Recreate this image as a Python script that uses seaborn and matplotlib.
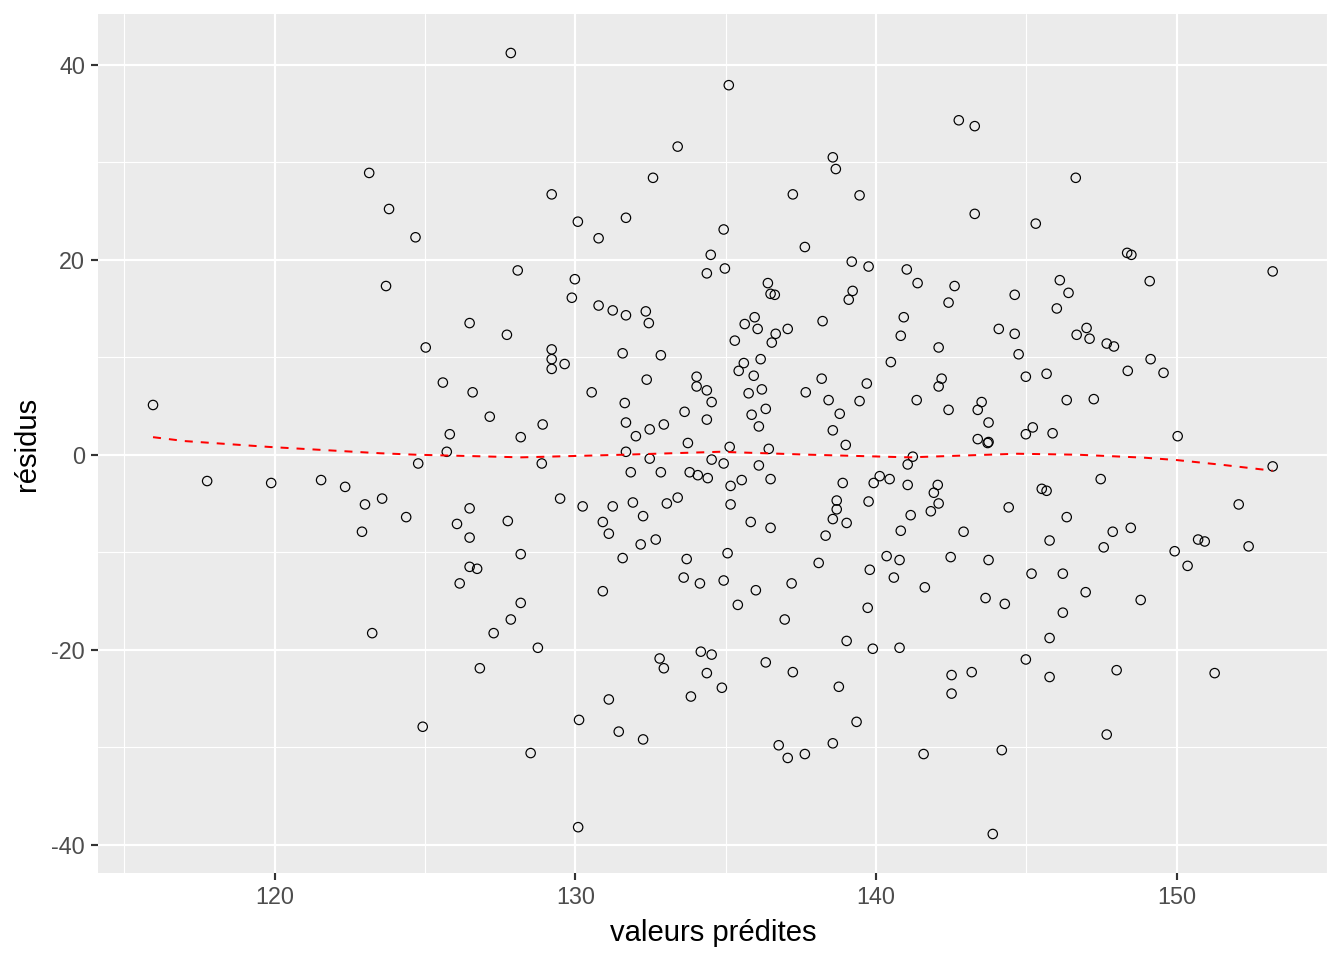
import matplotlib
matplotlib.use("Agg")
import matplotlib.pyplot as plt
import seaborn as sns

# fitted values (x) and residuals (y)
predites = [
    123.14, 123.80, 124.68, 123.70, 115.95, 117.75, 119.88, 121.54, 122.34, 123.00,
    123.57, 124.37, 122.90, 124.77, 123.24,
    127.85, 133.40, 132.58, 129.21, 130.08, 131.68, 130.77, 134.50, 134.37, 128.08,
    129.98, 129.88, 130.77, 131.24, 131.68, 132.34, 132.44, 126.48, 127.72, 125.02,
    129.21, 129.21, 129.21, 129.64, 131.57, 132.84, 125.59, 126.58, 130.54, 132.37,
    134.03, 134.03, 134.37, 134.53, 131.64, 133.63, 134.37, 127.15, 128.91, 131.68,
    132.94, 132.47, 132.01, 125.82, 128.18, 133.74, 125.72, 131.68,
    128.88, 132.47, 134.53, 131.84, 132.84, 133.80, 134.07, 134.40, 129.49, 130.24,
    131.24, 131.91, 133.04, 133.40, 126.48, 126.06, 127.75, 130.91, 131.11, 132.25,
    132.17, 132.67, 126.48, 128.18, 131.57, 133.70, 126.48, 126.73, 126.15, 133.60,
    134.14, 130.91, 128.18, 127.85, 127.28, 128.75, 126.82, 132.80, 132.94, 134.17,
    134.53, 134.37, 134.87, 133.84, 131.11, 124.92, 130.12, 131.44, 132.25, 128.51,
    130.09,
    135.10, 142.75, 143.28, 138.56, 138.66, 137.23, 139.45, 143.28, 134.93, 137.63,
    134.97, 139.19, 139.75, 141.02, 141.38, 142.61, 142.41, 144.61, 136.40, 136.49,
    136.63, 139.22, 139.09, 135.96, 135.63, 136.06, 137.06, 136.66, 136.53, 135.30,
    138.22, 140.92, 140.82, 142.08, 144.08, 144.61, 144.74, 136.16, 135.60, 135.43,
    135.93, 140.49, 142.18, 142.08, 138.19, 139.69, 136.20, 135.76, 137.66, 138.42,
    139.45, 141.35, 142.41, 143.38, 143.51, 143.74, 136.33, 135.86, 138.79, 136.10,
    138.56, 143.38, 143.71, 143.74, 135.13, 136.43, 138.99, 141.22,
    134.93, 136.10, 135.16, 135.53, 136.49, 135.16, 135.83, 136.49, 138.89, 138.69,
    138.69, 138.56, 139.02, 138.32, 139.75, 139.92, 140.12, 140.45, 141.05, 141.05,
    141.15, 140.82, 142.05, 141.92, 142.08, 141.82, 142.91, 144.41, 135.06, 134.93,
    136.00, 135.40, 137.19, 136.96, 138.09, 139.79, 140.35, 140.78, 140.59, 139.72,
    141.62, 142.48, 143.74, 143.64, 144.28, 139.02, 139.89, 140.78, 136.33, 137.23,
    138.76, 142.51, 143.18, 142.51, 139.35, 136.76, 137.06, 137.63, 138.56, 141.58,
    144.18, 143.88,
    146.64, 145.31, 148.35, 148.49, 153.19, 146.11, 149.10, 146.40, 146.01, 147.00,
    146.67, 147.10, 147.67, 147.91, 149.13, 144.98, 145.67, 148.37, 149.56, 146.34,
    147.24, 145.21, 144.98, 145.87, 150.03,
    153.19, 147.47, 145.51, 145.67, 146.34, 152.06, 147.87, 148.47, 145.77, 147.57,
    150.71, 150.93, 152.39, 149.93, 150.36, 145.17, 146.21, 146.97, 148.80, 146.21,
    145.77, 144.98, 145.77, 148.00, 151.26, 147.67,
]
residus = [
    28.9, 25.2, 22.3, 17.3, 5.1, -2.7, -2.9, -2.6, -3.3, -5.1,
    -4.5, -6.4, -7.9, -0.9, -18.3,
    41.2, 31.6, 28.4, 26.7, 23.9, 24.3, 22.2, 20.5, 18.6, 18.9,
    18.0, 16.1, 15.3, 14.8, 14.3, 14.7, 13.5, 13.5, 12.3, 11.0,
    10.8, 9.8, 8.8, 9.3, 10.4, 10.2, 7.4, 6.4, 6.4, 7.7,
    8.0, 7.0, 6.6, 5.4, 5.3, 4.4, 3.6, 3.9, 3.1, 3.3,
    3.1, 2.6, 1.9, 2.1, 1.8, 1.2, 0.3, 0.3,
    -0.9, -0.4, -0.5, -1.8, -1.8, -1.8, -2.1, -2.4, -4.5, -5.3,
    -5.3, -4.9, -5.0, -4.4, -5.5, -7.1, -6.8, -6.9, -8.1, -6.3,
    -9.2, -8.7, -8.5, -10.2, -10.6, -10.7, -11.5, -11.7, -13.2, -12.6,
    -13.2, -14.0, -15.2, -16.9, -18.3, -19.8, -21.9, -20.9, -21.9, -20.2,
    -20.5, -22.4, -23.9, -24.8, -25.1, -27.9, -27.2, -28.4, -29.2, -30.6,
    -38.2,
    37.9, 34.3, 33.7, 30.5, 29.3, 26.7, 26.6, 24.7, 23.1, 21.3,
    19.1, 19.8, 19.3, 19.0, 17.6, 17.3, 15.6, 16.4, 17.6, 16.5,
    16.4, 16.8, 15.9, 14.1, 13.4, 12.9, 12.9, 12.4, 11.5, 11.7,
    13.7, 14.1, 12.2, 11.0, 12.9, 12.4, 10.3, 9.8, 9.4, 8.6,
    8.1, 9.5, 7.8, 7.0, 7.8, 7.3, 6.7, 6.3, 6.4, 5.6,
    5.5, 5.6, 4.6, 4.6, 5.4, 3.3, 4.7, 4.1, 4.2, 2.9,
    2.5, 1.6, 1.2, 1.3, 0.8, 0.6, 1.0, -0.2,
    -0.9, -1.1, -3.2, -2.6, -2.5, -5.1, -6.9, -7.5, -2.9, -4.7,
    -5.6, -6.6, -7.0, -8.3, -4.8, -2.9, -2.2, -2.5, -1.0, -3.1,
    -6.2, -7.8, -3.1, -3.9, -5.0, -5.8, -7.9, -5.4, -10.1, -12.9,
    -13.9, -15.4, -13.2, -16.9, -11.1, -11.8, -10.4, -10.8, -12.6, -15.7,
    -13.6, -10.5, -10.8, -14.7, -15.3, -19.1, -19.9, -19.8, -21.3, -22.3,
    -23.8, -22.6, -22.3, -24.5, -27.4, -29.8, -31.1, -30.7, -29.6, -30.7,
    -30.3, -38.9,
    28.4, 23.7, 20.7, 20.5, 18.8, 17.9, 17.8, 16.6, 15.0, 13.0,
    12.3, 11.9, 11.4, 11.1, 9.8, 8.0, 8.3, 8.6, 8.4, 5.6,
    5.7, 2.8, 2.1, 2.2, 1.9,
    -1.2, -2.5, -3.5, -3.7, -6.4, -5.1, -7.9, -7.5, -8.8, -9.5,
    -8.7, -8.9, -9.4, -9.9, -11.4, -12.2, -12.2, -14.1, -14.9, -16.2,
    -18.8, -21.0, -22.8, -22.1, -22.4, -28.7,
]

# smoothed trend (dashed red)
lisse_x = [115.95, 117.0, 119.8, 123.5, 124.7, 128.2, 131.6, 134.8,
           137.8, 141.1, 144.7, 146.7, 148.9, 150.0, 151.55, 153.19]
lisse_y = [1.8, 1.4, 0.8, 0.15, 0.0, -0.27, 0.0, 0.3,
           0.0, -0.27, 0.1, 0.0, -0.3, -0.55, -1.05, -1.64]

sns.set_theme(style="darkgrid", rc={
    "axes.facecolor": "#EBEBEB",
    "grid.color": "white",
    "axes.edgecolor": "#EBEBEB",
})
plt.rcParams["font.family"] = ["Liberation Sans", "DejaVu Sans"]
plt.rcParams["axes.unicode_minus"] = False

fig = plt.figure(figsize=(1344 / 144, 960 / 144), dpi=144)
ax = fig.add_axes([98 / 1344, 1 - 873 / 960, (1328 - 98) / 1344, (873 - 14) / 960])

sns.scatterplot(x=predites, y=residus, ax=ax, s=22, color="black",
                facecolors="none", edgecolor="black", linewidth=0.6, zorder=3)
sns.lineplot(x=lisse_x, y=lisse_y, ax=ax, color="red", linewidth=1.0,
             linestyle="--", zorder=4)
ax.lines[-1].set_dashes([4, 4])

ax.set_xlim(114.12, 155.03)
ax.set_ylim(-42.9, 45.2)
ax.set_xticks([120, 130, 140, 150])
ax.set_yticks([-40, -20, 0, 20, 40])
ax.set_xticks([115, 125, 135, 145, 155], minor=True)
ax.set_yticks([-30, -10, 10, 30], minor=True)
ax.grid(which="major", color="white", linewidth=1.07)
ax.grid(which="minor", color="white", linewidth=0.55)
ax.set_axisbelow(True)
for s in ax.spines.values():
    s.set_visible(False)

ax.tick_params(which="major", length=3.6, width=1.07, color="#333333",
               labelsize=11.7, labelcolor="#4D4D4D", pad=2.9,
               bottom=True, left=True)
ax.tick_params(which="minor", length=0)

ax.set_xlabel("valeurs prédites", fontsize=14.6, color="black", labelpad=5)
ax.set_ylabel("résidus", fontsize=14.6, color="black", labelpad=5)

fig.savefig("out.png", dpi=144)
